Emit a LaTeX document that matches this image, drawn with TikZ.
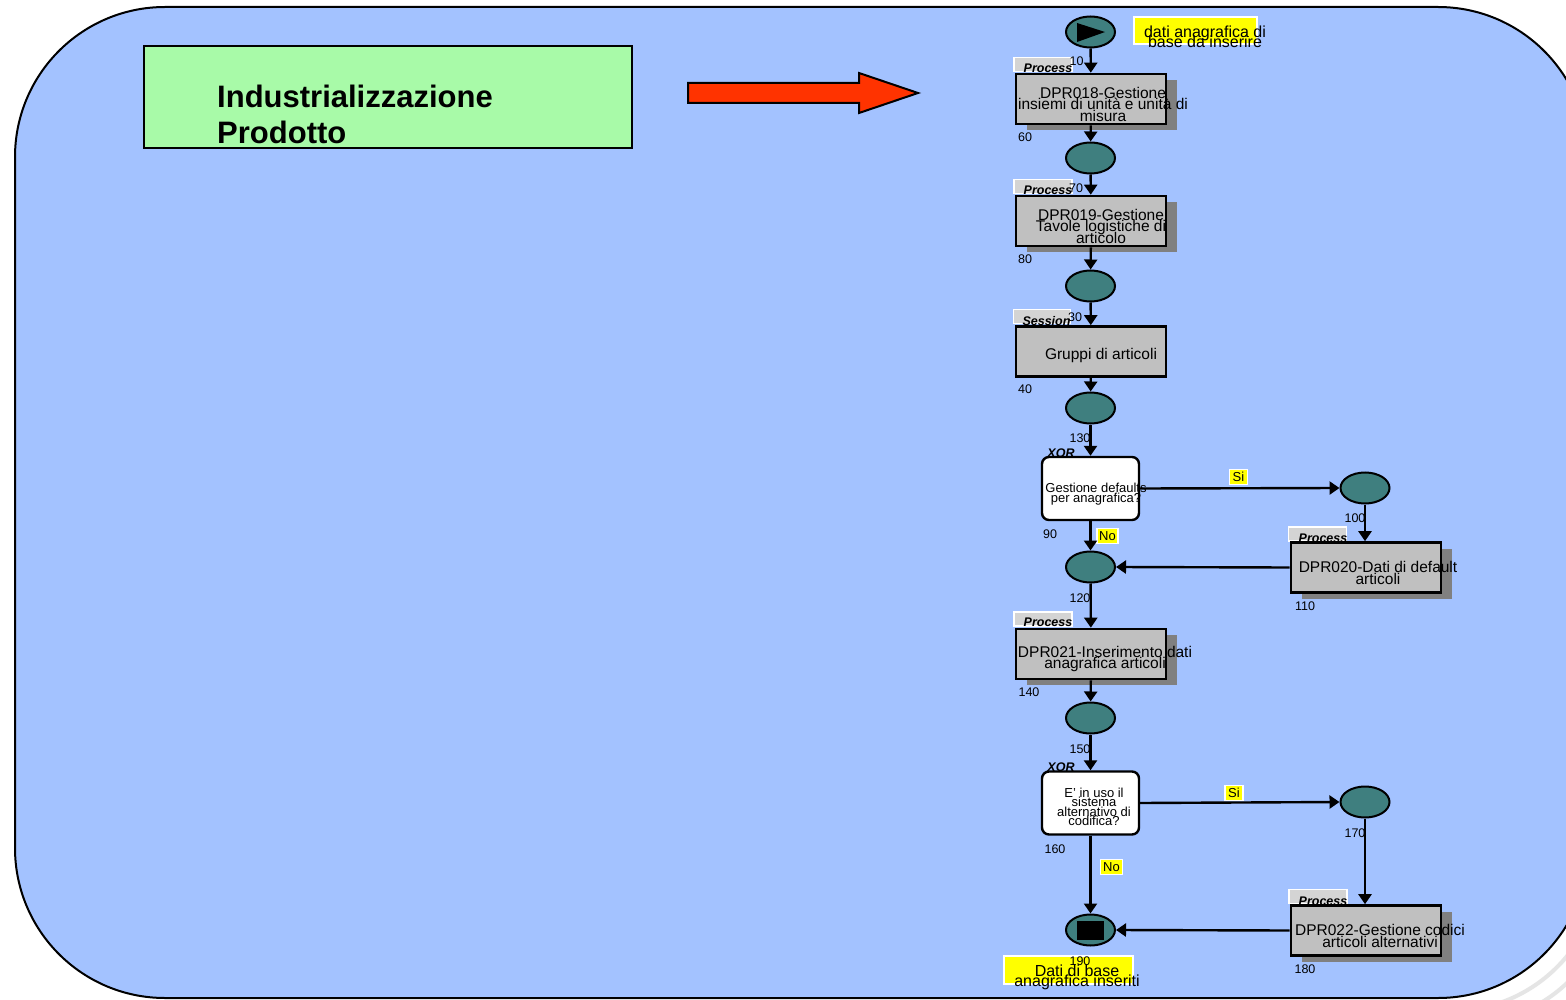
\documentclass[tikz,border=0pt]{standalone}
\usepackage{fontspec}
\setmainfont{Liberation Sans}
\usetikzlibrary{arrows.meta,shapes.geometric,shadows}

\definecolor{panelblue}{HTML}{A3C2FF}
\definecolor{titlegreen}{HTML}{A8FAA8}
\definecolor{arrowred}{HTML}{FF3300}
\definecolor{evteal}{HTML}{3F7F7F}
\definecolor{funcgray}{HTML}{C0C0C0}
\definecolor{shadowgray}{HTML}{808080}
\definecolor{taggray}{HTML}{D4D4D4}
\definecolor{noteyellow}{HTML}{FFFF00}

\begin{document}
\lineskiplimit=-50pt
\begin{tikzpicture}[x=1pt,y=-1pt,
    >={Triangle[length=10pt,width=13pt]},
    flow/.style={->,line width=2.4pt},
    event/.style={ellipse,draw,line width=2pt,fill=evteal,minimum width=49pt,minimum height=31pt,inner sep=0pt},
    func/.style={draw,line width=2.6pt,fill=funcgray,minimum width=150pt,minimum height=50pt,inner sep=0pt},
    shadowed/.style={drop shadow={opacity=1,fill=shadowgray,draw=none,shadow xshift=10.5pt,shadow yshift=-6pt}},
    xorbox/.style={draw,line width=2.4pt,rounded corners=7pt,fill=white,minimum width=97pt,minimum height=63pt,inner sep=0pt},
    tag/.style={draw=white,line width=1.5pt,fill=taggray,minimum width=58pt,minimum height=14pt,inner sep=0pt},
    tagtext/.style={font=\fontsize{12.5pt}{12.5pt}\selectfont\bfseries\itshape,inner sep=0pt},
    boxtext/.style={font=\fontsize{15.5pt}{11.5pt}\selectfont,align=center,inner sep=0pt},
    xortext/.style={font=\fontsize{13pt}{9.5pt}\selectfont,align=center,inner sep=0pt},
    num/.style={font=\fontsize{12.5pt}{12.5pt}\selectfont,inner sep=0pt},
    note/.style={draw=white,line width=1.5pt,fill=noteyellow,inner sep=0pt},
    notetext/.style={font=\fontsize{16pt}{10pt}\selectfont,align=center,inner sep=0pt},
    answer/.style={draw=white,line width=1.2pt,fill=noteyellow,minimum width=18pt,minimum height=15pt,inner sep=0pt,font=\fontsize{13pt}{13pt}\selectfont}
  ]

\fill[white] (0,0) rectangle (1566,1000);
\useasboundingbox (0,0) rectangle (1566,1000);

% panel
\begin{scope}
\clip (1300,800) rectangle (1566,1000);
\draw[gray!20,line width=4pt,rounded corners=150pt] (41,33) rectangle (1614,1024);
\draw[gray!20,line width=4pt,rounded corners=150pt] (28,20) rectangle (1601,1011);
\end{scope}
\draw[line width=2pt,fill=panelblue,rounded corners=150pt] (15,7) rectangle (1588,998);

\node[draw,line width=2pt,fill=titlegreen,minimum width=488pt,minimum height=102pt,inner sep=0pt] (title) at (388,97) {};
\node[font=\fontsize{31pt}{36pt}\selectfont\bfseries,align=left,inner sep=0pt,anchor=west] (titletext) at (217,114) {Industrializzazione\\Prodotto};

\draw[line width=2pt,fill=arrowred] (688,83) -- (859,83) -- (859,73) -- (918,93) -- (859,113) -- (859,103) -- (688,103) -- cycle;

% events
\node[event] (e0) at (1090.5,32) {};
\fill (1077,23) -- (1105,32) -- (1077,42) -- cycle;
\node[event] (e1) at (1090.5,158) {};
\node[event] (e2) at (1090.5,286) {};
\node[event] (e3) at (1090.5,408) {};
\node[event] (e4) at (1365,488) {};
\node[event] (e5) at (1090.5,567) {};
\node[event] (e6) at (1090.5,718) {};
\node[event] (e7) at (1365,802) {};
\node[event] (e8) at (1090.5,930) {};
\fill (1077,921) rectangle (1104,940);

\node[note,minimum width=123pt,minimum height=27pt] (n0) at (1195.5,30.5) {};
\node[notetext] (n0t) at (1205,37) {dati anagrafica di\\base da inserire};
\node[note,minimum width=129pt,minimum height=28pt] (n1) at (1068.5,970) {};
\node[notetext] (n1t) at (1077,977) {Dati di base\\anagrafica inseriti};

% functions
\node[tag] (t1) at (1043,64.5) {};
\node[tagtext] (t1t) at (1048,68.5) {Process};
\node[func,shadowed] (f1) at (1091,99) {};
\node[boxtext] (f1t) at (1103,104) {DPR018-Gestione\\insiemi di unità e unità di\\misura};

\node[tag] (t2) at (1043,186.5) {};
\node[tagtext] (t2t) at (1048,190.5) {Process};
\node[func,shadowed] (f2) at (1091,221) {};
\node[boxtext] (f2t) at (1101,226) {DPR019-Gestione\\Tavole logistiche di\\articolo};

\node[tag,minimum width=57pt] (t3) at (1042,316.5) {};
\node[tagtext] (t3t) at (1046.5,321) {Session};
\node[func] (f3) at (1091,351.5) {};
\node[boxtext] (f3t) at (1101,355) {Gruppi di articoli};

\node[tag] (t4) at (1317.5,534) {};
\node[tagtext] (t4t) at (1323,538) {Process};
\node[func,shadowed] (f4) at (1366,567.5) {};
\node[boxtext] (f4t) at (1378,573) {DPR020-Dati di default\\articoli};

\node[tag] (t5) at (1043,619) {};
\node[tagtext] (t5t) at (1048,622.5) {Process};
\node[func,shadowed] (f5) at (1091,654) {};
\node[boxtext] (f5t) at (1105,659) {DPR021-Inserimento dati\\anagrafica articoli};

\node[tag] (t6) at (1318,896.5) {};
\node[tagtext] (t6t) at (1323,901.5) {Process};
\node[func,shadowed] (f6) at (1366,930.5) {};
\node[boxtext] (f6t) at (1380,936) {DPR022-Gestione codici\\articoli alternativi};

% connectors (XOR)
\node[xorbox] (x1) at (1090.5,488.5) {};
\node[xortext] (x1t) at (1096,494) {Gestione defaults\\per anagrafica?};
\node[tagtext] (x1l) at (1061,453) {XOR};
\node[xorbox] (x2) at (1090.5,803) {};
\node[xortext] (x2t) at (1094,807) {E' in uso il\\sistema\\alternativo di\\codifica?};
\node[tagtext] (x2l) at (1061,767) {XOR};

\node[answer] (si1) at (1238.5,477) {Si};
\node[answer,minimum width=21pt] (no1) at (1107.5,536) {No};
\node[answer] (si2) at (1234,793) {Si};
\node[answer,minimum width=22pt] (no2) at (1111.5,867) {No};

% numbers
\node[num] (k10) at (1076.5,61) {10};
\node[num] (k60) at (1025,137) {60};
\node[num] (k70) at (1076,188) {70};
\node[num] (k80) at (1025,259) {80};
\node[num] (k30) at (1075,317) {30};
\node[num] (k40) at (1025,389) {40};
\node[num] (k130) at (1080,438) {130};
\node[num] (k90) at (1050,534) {90};
\node[num] (k100) at (1355,518) {100};
\node[num] (k110) at (1305,606) {110};
\node[num] (k120) at (1080,598) {120};
\node[num] (k140) at (1029,692) {140};
\node[num] (k150) at (1080,749) {150};
\node[num] (k160) at (1055,849) {160};
\node[num] (k170) at (1355,833) {170};
\node[num] (k180) at (1305,969) {180};
\node[num] (k190) at (1080,961) {190};

\draw[flow] (e0) -- (f1);
\draw[flow] (f1) -- (e1);
\draw[flow] (e1) -- (f2);
\draw[flow] (f2) -- (e2);
\draw[flow] (e2) -- (f3);
\draw[flow] (f3) -- (e3);
\draw[flow] (e3) -- (x1);
\draw[flow] (x1.east) -- (e4.west);
\draw[flow] (e4.south) -- (e4.south |- f4.north);
\draw[flow] (f4.west) -- (e5.east);
\draw[flow] (x1) -- (e5);
\draw[flow] (e5) -- (f5);
\draw[flow] (f5) -- (e6);
\draw[flow] (e6) -- (x2);
\draw[flow] (x2.east) -- (e7.west);
\draw[flow] (e7.south) -- (e7.south |- f6.north);
\draw[flow] (f6.west) -- (e8.east);
\draw[flow] (x2) -- (e8);
\end{tikzpicture}
\end{document}
